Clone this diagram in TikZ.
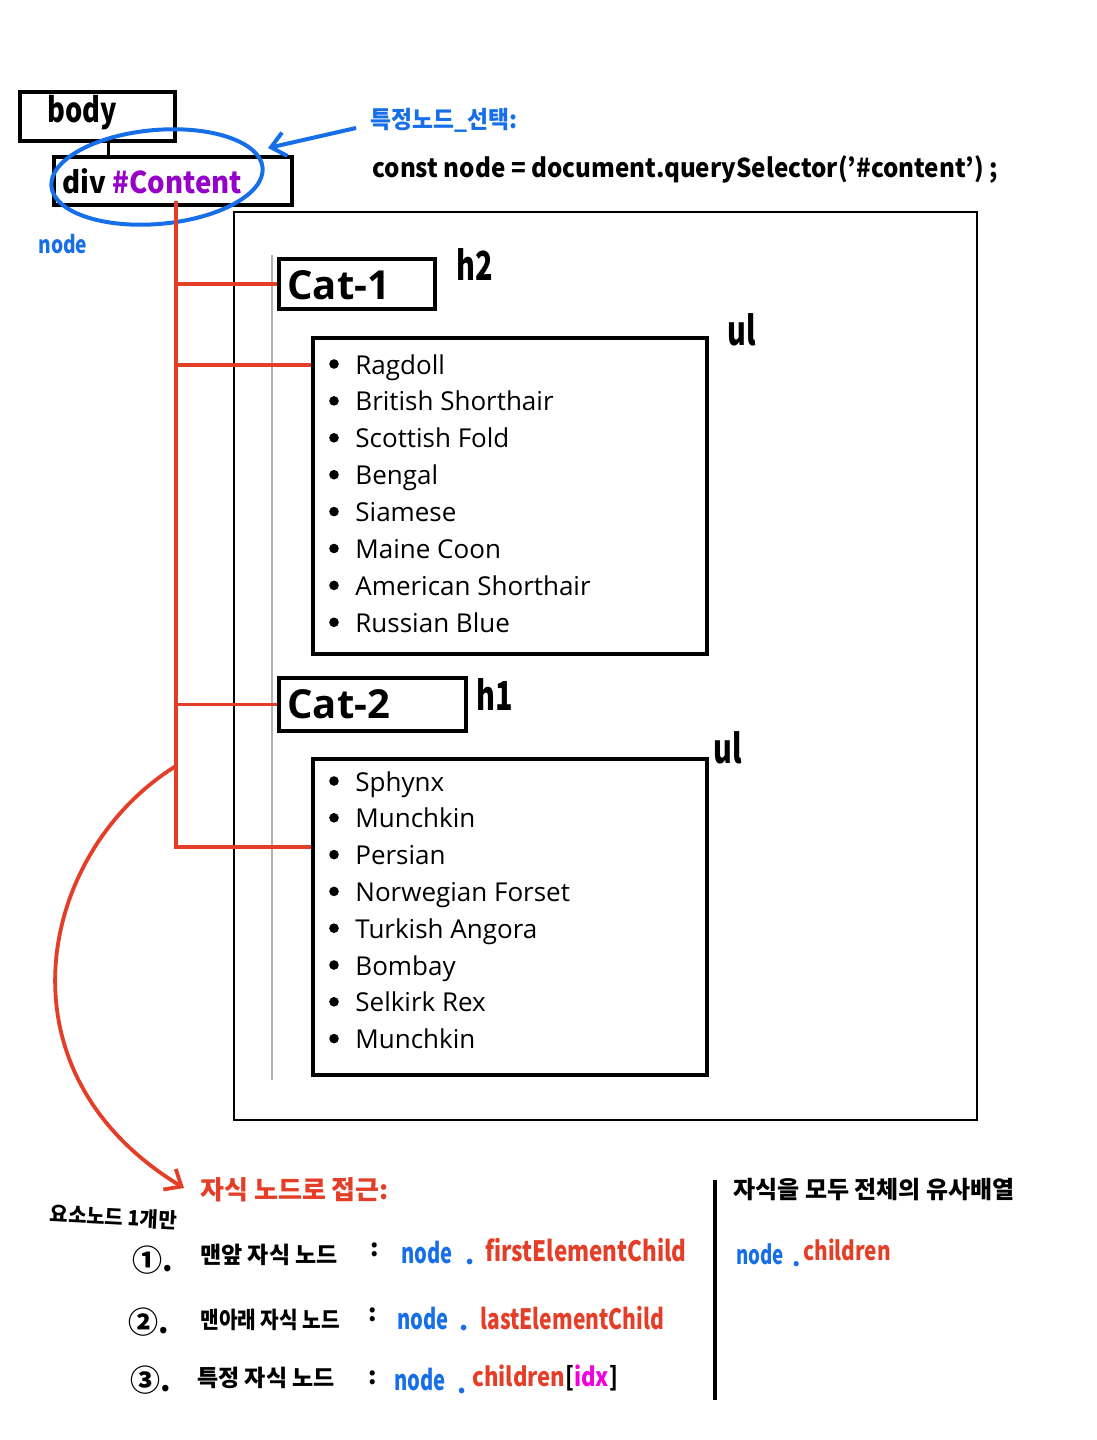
\documentclass[tikz,border=0pt]{standalone}
\usepackage{fontspec}
\usepackage{graphicx}
\setmainfont{Noto Sans CJK KR}
\newfontfamily\listfont{Open Sans}
\usetikzlibrary{arrows.meta,calc}
\definecolor{cred}{RGB}{228,62,40}
\definecolor{cblue}{RGB}{22,110,232}
\definecolor{cpurple}{RGB}{150,0,200}
\definecolor{cmag}{RGB}{240,0,220}
\newcommand\myhf[1]{\bfseries\fontsize{#1}{#1}\selectfont}
\newcommand\narrow[2]{\scalebox{#1}[1]{#2}}
\tikzset{
 box/.style={draw, line width=2pt, inner sep=0pt},
 redline/.style={draw=cred, line width=1.9pt},
 blueline/.style={draw=cblue, line width=2pt},
 hand/.style={inner sep=0pt, anchor=west},
 item/.style={font=\listfont\fontsize{13}{15}\selectfont, inner sep=0pt, anchor=base west},
 bul/.style={fill, circle, inner sep=0pt, minimum size=4.8pt},
}
\begin{document}
\begin{tikzpicture}[x=0.5pt,y=-0.5pt]
\useasboundingbox[fill=white] (0,0) rectangle (1097,1440);
% top boxes
\node[box, minimum width=77.5pt, minimum height=24.5pt] (body) at (97.5,116.5) {};
\node[box, minimum width=119pt, minimum height=24pt, fill=white] (div) at (173,181) {};
\draw[line width=1.5pt] (108,141) -- (108,158);
\node[hand, font=\myhf{17}] (bodyt) at (47,113) {\narrow{0.8}{body}};
\node[hand, font=\myhf{15}] (divt) at (62,181) {\narrow{0.92}{div \textcolor{cpurple}{\#Content}}};
% big box
\node[draw, line width=1pt, minimum width=371.5pt, minimum height=454pt] (big) at (605.5,666) {};
\draw[gray!60, line width=0.6pt] (272,255) -- (272,1080);
\node[box, minimum width=78pt, minimum height=25pt] (cat1) at (357,284) {};
\node[hand, font=\listfont\bfseries\fontsize{20}{22}\selectfont] (cat1t) at (287,285) {Cat-1};
\node[box, minimum width=197pt, minimum height=158pt] (ul1) at (510,496) {};
\node[box, minimum width=93.5pt, minimum height=26.5pt] (cat2) at (372.5,704.5) {};
\node[hand, font=\listfont\bfseries\fontsize{20}{22}\selectfont] (cat2t) at (287,704) {Cat-2};
\node[box, minimum width=197pt, minimum height=158pt] (ul2) at (510,917) {};
\foreach \t [count=\i] in {Ragdoll,British Shorthair,Scottish Fold,Bengal,Siamese,Maine Coon,American Shorthair,Russian Blue}{
  \node[bul] (ba\i) at (334,{364+36.9*(\i-1)}) {};
  \node[item] (ia\i) at (355,{374+36.9*(\i-1)}) {\t};
}
\foreach \t [count=\i] in {Sphynx,Munchkin,Persian,Norwegian Forset,Turkish Angora,Bombay,Selkirk Rex,Munchkin}{
  \node[bul] (bb\i) at (334,{781+36.8*(\i-1)}) {};
  \node[item] (ib\i) at (355,{791+36.8*(\i-1)}) {\t};
}
% tag labels
\node[hand, font=\myhf{20}] (h2) at (456,265) {\narrow{0.72}{h2}};
\node[hand, font=\myhf{20}] (ula) at (727,330) {\narrow{0.72}{ul}};
\node[hand, font=\myhf{20}] (h1) at (476,695) {\narrow{0.72}{h1}};
\node[hand, font=\myhf{20}] (ulb) at (713,748) {\narrow{0.72}{ul}};
% blue
\draw[blueline] (157,177) ellipse [x radius=106, y radius=47, rotate=5];
\coordinate (barA) at (356,128);
\coordinate (barB) at (268,148);
\draw[blueline, -{Straight Barb[length=7pt,width=12pt]}] (barA) -- (barB);
\node[hand, text=cblue, font=\myhf{12}] (nodel) at (38,244) {\narrow{0.8}{node}};
\node[hand, text=cblue, font=\myhf{12}] (sel) at (370,120) {\narrow{0.95}{특정노드\_선택:}};
\node[hand, font=\myhf{13}] (code) at (372,170) {\narrow{0.93}{const node = document.querySelector('\#content') ;}};
% red tree
\coordinate (t0) at (176,201);
\coordinate (u1) at ($(ul1.north west)+(0,29)$);
\draw[redline] (t0) |- (cat1.west);
\draw[redline] (t0) |- (u1);
\draw[redline] (t0) |- (cat2.west);
\draw[redline] (t0) |- (ul2.north west |- 0,847);
\coordinate (cs) at (176,766);
\coordinate (ce) at (184,1188);
\draw[redline, -{Straight Barb[length=7pt,width=12pt]}] (cs) .. controls (40,850) and (-10,1070) .. (ce);
% bottom
\node[hand, text=cred, font=\myhf{13}] (acc) at (200,1190) {자식 노드로 접근:};
\node[hand, font=\myhf{10.5}, rotate=-3] (only) at (50,1214) {\narrow{0.95}{요소노드 1개만}};
\node[hand, font=\myhf{15}] (n1) at (132,1260) {①.};
\node[hand, font=\myhf{11.5}] (l1) at (200,1255) {맨앞 자식 노드};
\node[hand, font=\myhf{12}] (c1) at (370,1250) {:};
\node[hand, text=cblue, font=\myhf{14}] (nd1) at (401,1252) {\narrow{0.72}{node}};
\node[hand, text=cblue, font=\myhf{13}] (dt1) at (465,1262) {.};
\node[hand, text=cred, font=\myhf{14}] (fe) at (485,1250) {\narrow{0.8}{firstElementChild}};
\node[hand, font=\myhf{15}] (n2) at (128,1322) {②.};
\node[hand, font=\myhf{11.5}] (l2) at (200,1320) {\narrow{0.88}{맨아래 자식 노드}};
\node[hand, font=\myhf{12}] (c2) at (368,1315) {:};
\node[hand, text=cblue, font=\myhf{14}] (nd2) at (397,1318) {\narrow{0.72}{node}};
\node[hand, text=cblue, font=\myhf{13}] (dt2) at (459,1328) {.};
\node[hand, text=cred, font=\myhf{14}] (le) at (480,1318) {\narrow{0.75}{lastElementChild}};
\node[hand, font=\myhf{15}] (n3) at (130,1380) {③.};
\node[hand, font=\myhf{11.5}] (l3) at (197,1378) {특정 자식 노드};
\node[hand, font=\myhf{12}] (c3) at (368,1378) {:};
\node[hand, text=cblue, font=\myhf{14}] (nd3) at (394,1379) {\narrow{0.72}{node}};
\node[hand, text=cblue, font=\myhf{13}] (dt3) at (457,1391) {.};
\node[hand, font=\myhf{13}] (ch3) at (472,1378) {\narrow{0.85}{\textcolor{cred}{children}[\textcolor{cmag}{idx}]}};
\coordinate (vt) at (715,1180);
\coordinate (vb) at (715,1400);
\draw[line width=1.8pt] (vt) -- (vb);
\node[hand, font=\myhf{12}] (rt) at (733,1190) {자식을 모두 전체의 유사배열};
\node[hand, text=cblue, font=\myhf{13}] (nd4) at (736,1254) {\narrow{0.72}{node}};
\node[hand, text=cblue, font=\myhf{12}] (dt4) at (792,1264) {.};
\node[hand, text=cred, font=\myhf{13}] (ch4) at (803,1250) {\narrow{0.8}{children}};
\end{tikzpicture}
\end{document}
